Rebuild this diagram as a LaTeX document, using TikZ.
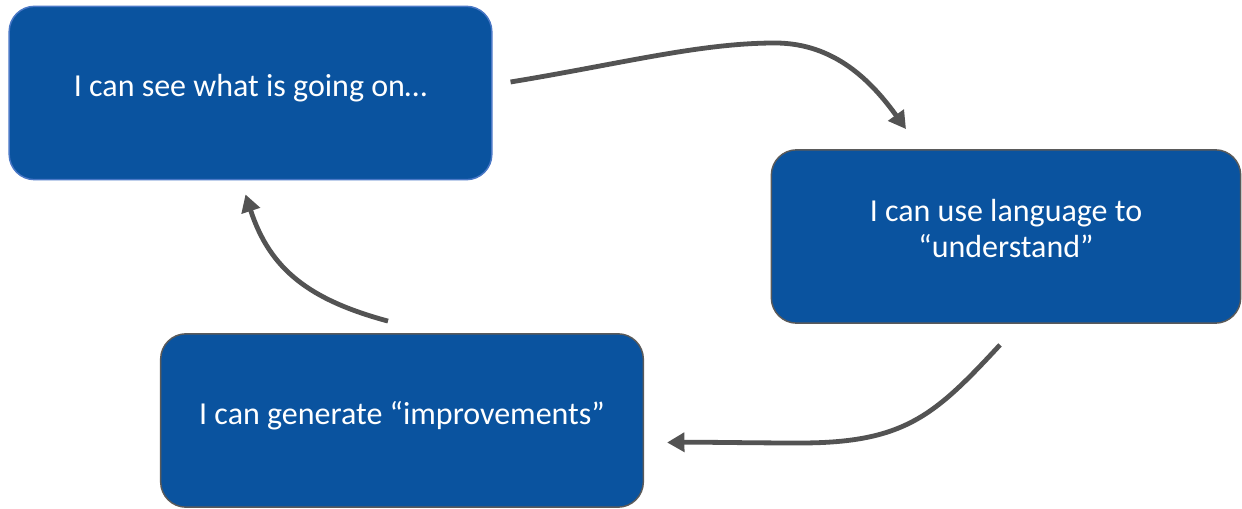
\documentclass[tikz,border=0pt]{standalone}
\usepackage{fontspec}
\setmainfont{Carlito}
\usepackage{xcolor}
\usetikzlibrary{arrows.meta}

\definecolor{boxblue}{HTML}{0A539F}
\definecolor{edgeblue}{HTML}{4A78C6}
\definecolor{edgegrey}{HTML}{5A5A5A}
\definecolor{flowgrey}{HTML}{535353}

\begin{document}
\begin{tikzpicture}[
  x=0.75pt,y=-0.75pt,
  box/.style={draw=edgegrey,line width=1.1pt,fill=boxblue,rounded corners=19pt,align=center,
    text=white,inner sep=0pt,minimum width=362pt,minimum height=130pt,text depth=12pt,
    font=\fontsize{24}{27.5}\selectfont},
  flow/.style={-{Triangle[length=13pt,width=14pt]},line width=3.6pt,draw=flowgrey}
]
\useasboundingbox (0,0) rectangle (1242,509);

\node[box,draw=edgeblue] (see) at (250.5,93) {I can see what is going on…};
\node[box,minimum width=352pt] (lang) at (1006,236.5) {I can use language to\\“understand”};
\node[box] (gen) at (402,420.5) {I can generate “improvements”};

% the loop
\draw[flow] ([shift={(18,-11)}]see.east) .. controls (620,64) and (700,43) .. (775,43)
  .. controls (835,43) and (872,82) .. ([shift={(-100,-20)}]lang.north);
\draw[flow] ([shift={(-6,21)}]lang.south) .. controls (935,415) and (905,443) .. (800,443)
  .. controls (750,443) and (705,442) .. ([shift={(23,22)}]gen.east);
\draw[flow] ([shift={(-14,-12)}]gen.north) .. controls (310,300) and (270,270) .. ([shift={(-5,14)}]see.south);
\end{tikzpicture}
\end{document}
